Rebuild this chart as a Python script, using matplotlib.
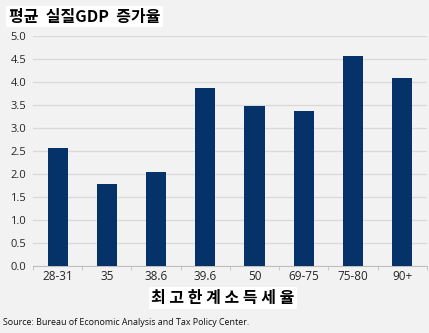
import numpy as np
import matplotlib.pyplot as plt

# 최고한계소득세율 구간별 평균 실질GDP 증가율
rates = ['28-31', '35', '38.6', '39.6', '50', '69-75', '75-80', '90+']
growth = [2.57, 1.78, 2.04, 3.88, 3.48, 3.36, 4.57, 4.08]
yticks = [0.0, 0.5, 1.0, 1.5, 2.0, 2.5, 3.0, 3.5, 4.0, 4.5, 5.0]

plt.rcParams['font.family'] = ['Open Sans', 'Noto Sans CJK KR', 'DejaVu Sans']

bg = '#f2f2f2'
fig = plt.figure(figsize=(4.29, 3.33), dpi=100, facecolor=bg)
ax = fig.add_axes([0.077, 0.201, 0.918, 0.691], facecolor=bg)

x = np.arange(len(rates))
ax.bar(x, growth, width=0.41, color='#06326a', zorder=3)

ax.set_xlim(-0.5, len(rates) - 0.5)
ax.set_ylim(0, 5.0)
ax.set_yticks(yticks)
ax.set_yticklabels([f'{v:.1f}' for v in yticks], fontsize=8, color='#262626')
ax.set_xticks(x)
ax.set_xticklabels(rates, fontsize=8.5, color='#262626')
ax.tick_params(axis='y', length=0, pad=5)
ax.tick_params(axis='x', length=0, pad=3)
ax.set_xticks(np.arange(-0.5, len(rates), 1), minor=True)
ax.tick_params(axis='x', which='minor', length=3, color='#bfbfbf')

ax.grid(axis='y', color='#d9d9d9', lw=0.9, zorder=0)
for s in ['top', 'right', 'left']:
    ax.spines[s].set_visible(False)
ax.spines['bottom'].set_color('#bfbfbf')

fig.text(0.02, 0.95, '평균  실질GDP  증가율', fontsize=11.5, fontweight='bold',
         family=['Noto Sans CJK KR'], va='center', ha='left',
         bbox=dict(facecolor='white', edgecolor='none', pad=2))
fig.text(0.52, 0.105, '최 고 한 계 소 득 세 율', fontsize=11.5, fontweight='bold',
         family=['Noto Sans CJK KR'], va='center', ha='center',
         bbox=dict(facecolor='white', edgecolor='none', pad=2))
fig.text(0.008, 0.033, 'Source: Bureau of Economic Analysis and Tax Policy Center.',
         fontsize=6.4, va='center', ha='left', color='#111111')

fig.savefig('out.png', dpi=100, facecolor=bg)
